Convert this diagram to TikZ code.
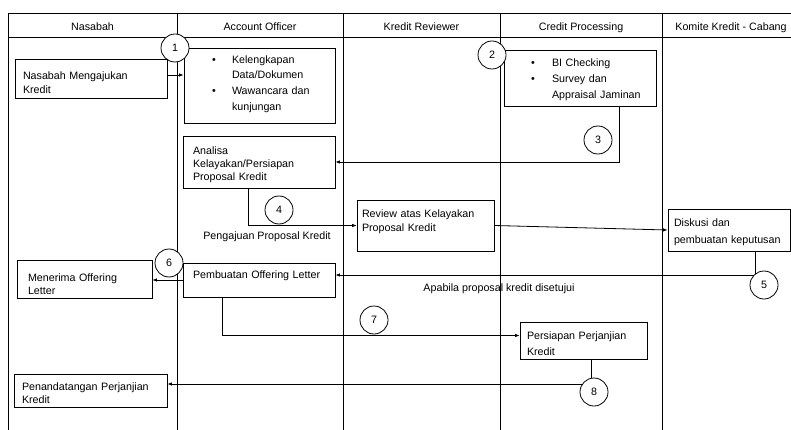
\documentclass[tikz,border=0pt]{standalone}
\usepackage{fontspec}
\setmainfont{Liberation Sans}
\usetikzlibrary{arrows.meta}
\begin{document}
\begin{tikzpicture}[x=1pt,y=-1pt,line width=0.8pt,
  every node/.style={font=\fontsize{10.7}{14}\selectfont},
  box/.style={draw,rectangle,align=left,inner ysep=0pt,text height=8pt},
  num/.style={draw,circle,fill=white,minimum size=28pt,inner sep=0pt},
  arr/.style={-{Latex[length=4.5pt,width=3.5pt]}},
  hdr/.style={inner sep=0pt,anchor=base}]
\useasboundingbox (0,0) rectangle (791,430);
% swimlanes
\draw (8,13) -- (791,13);
\draw (8,37) -- (791,37);
\foreach \x in {8,177,343,500,662} \draw (\x,13) -- (\x,430);
\node[hdr] (h1) at (92.5,30.5) {Nasabah};
\node[hdr] (h2) at (260,30.5) {Account Officer};
\node[hdr] (h3) at (421.5,30.5) {Kredit Reviewer};
\node[hdr] (h4) at (581,30.5) {Credit Processing};
\node[hdr] (h5) at (731,30.5) {Komite Kredit - Cabang};
% boxes
\node[box,minimum width=152pt,minimum height=39pt,inner xsep=8pt,text width=136pt,text depth=5pt] (n1) at (91,78.5) {Nasabah Mengajukan\\Kredit};
\node[box,minimum width=151pt,minimum height=75pt,inner xsep=4pt,text width=143pt,text depth=51pt] (ao1) at (259.5,85.5)
  {\hspace*{24pt}\makebox[20pt][l]{\textbullet}Kelengkapan\\[1pt]\hspace*{44pt}Data/Dokumen\\[2pt]\hspace*{24pt}\makebox[20pt][l]{\textbullet}Wawancara dan\\[2pt]\hspace*{44pt}kunjungan};
\node[box,minimum width=152pt,minimum height=56pt,inner xsep=4pt,text width=144pt,text depth=31.4pt] (cp1) at (580,78)
  {\hspace*{23pt}\makebox[21pt][l]{\textbullet}BI Checking\\[2pt]\hspace*{23pt}\makebox[21pt][l]{\textbullet}Survey dan\\[2pt]\hspace*{44pt}Appraisal Jaminan};
\node[box,minimum width=152pt,minimum height=52pt,inner xsep=10pt,text width=132pt,text depth=22.6pt] (ao2) at (259,162) {Analisa\\[-1pt]Kelayakan/Persiapan\\[-1pt]Proposal Kredit};
\node[box,minimum width=137pt,minimum height=51pt,inner xsep=5pt,text width=127pt,text depth=24.4pt] (kr1) at (425.5,225.5) {Review atas Kelayakan\\Proposal Kredit};
\node[box,minimum width=122pt,minimum height=42pt,inner xsep=6pt,text width=110pt,text depth=16pt] (kk1) at (729,230) {Diskusi dan\\[3pt]pembuatan keputusan};
\node[box,minimum width=152pt,minimum height=34pt,inner xsep=10pt,text width=132pt,text depth=12pt] (ao3) at (259,280) {Pembuatan Offering Letter};
\node[box,minimum width=135pt,minimum height=38pt,inner xsep=11pt,text width=113pt,text depth=4pt] (n2) at (84.5,279) {Menerima Offering\\[-1pt]Letter};
\node[box,minimum width=127pt,minimum height=37pt,inner xsep=7pt,text width=113pt,text depth=11pt] (cp2) at (583.5,340.5) {Persiapan Perjanjian\\[2pt]Kredit};
\node[box,minimum width=153pt,minimum height=33pt,inner xsep=8pt,text width=137pt,text depth=7.6pt] (n3) at (90.5,390.5) {Penandatangan Perjanjian\\[-1pt]Kredit};
% labels
\node (l4) at (267,237) {Pengajuan Proposal Kredit};
\node (l5) at (499,289) {Apabila proposal kredit disetujui};
% connectors
\draw[arr] ([yshift=3.5pt]n1.east) -- ([yshift=3.5pt]n1.east -| ao1.west);
\draw[arr] ([xshift=39pt]cp1.south) |- (ao2.east);
\draw[arr] ([xshift=-11pt]ao2.south) |- (kr1.west);
\draw[arr] (kr1.east) -- (kk1.west);
\draw[arr] ([xshift=26pt]kk1.south) |- ([yshift=5pt]ao3.east);
\draw[arr] (ao3.west) -- (ao3.west -| n2.east);
\draw[arr] ([xshift=-37pt]ao3.south) |- ([yshift=5pt]cp2.west);
\draw[arr] ([xshift=7.5pt]cp2.south) |- ([yshift=6.5pt]n3.east);
% step numbers
\node[num] (c1) at (175,48) {1};
\node[num] (c2) at (492,55) {2};
\node[num] (c3) at (598,140) {3};
\node[num] (c4) at (279,210) {4};
\node[num] (c5) at (764,285) {5};
\node[num] (c6) at (169,263) {6};
\node[num] (c7) at (374,320) {7};
\node[num] (c8) at (594,392) {8};
\end{tikzpicture}
\end{document}
